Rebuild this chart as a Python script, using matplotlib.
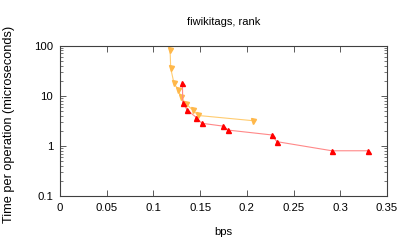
import matplotlib
matplotlib.use("Agg")
import matplotlib.pyplot as plt
from matplotlib.ticker import NullFormatter, LogLocator

plt.rcParams['font.family'] = ['Liberation Sans', 'DejaVu Sans']

title = "fiwikitags, rank"
xlabel = "bps"
ylabel = "Time per operation (microseconds)"

orange_x = [0.1178, 0.1185, 0.122, 0.1267, 0.1296, 0.135, 0.142, 0.148, 0.207]
orange_y = [81.5, 35.2, 17.7, 13.1, 9.35, 6.9, 5.23, 4.07, 3.2]

red_x = [0.131, 0.1314, 0.1363, 0.146, 0.1517, 0.174, 0.1795, 0.2267, 0.232, 0.291, 0.330]
red_y = [17.7, 7.1, 5.2, 3.7, 2.85, 2.51, 2.09, 1.67, 1.23, 0.81, 0.81]

xticks = [0, 0.05, 0.1, 0.15, 0.2, 0.25, 0.3, 0.35]
xtick_labels = ["0", "0.05", "0.1", "0.15", "0.2", "0.25", "0.3", "0.35"]
yticks = [0.1, 1, 10, 100]
ytick_labels = ["0.1", "1", "10", "100"]

fig = plt.figure(figsize=(4.07, 2.44), dpi=100)
ax = fig.add_axes([0.1474, 0.1947, 0.951 - 0.1474, 0.8135 - 0.1947])

ax.plot(orange_x, orange_y, color='#ffcc70', lw=0.8, marker='v', ms=3.6,
        mfc='#ffb84a', mec='#ffb84a', zorder=2)
ax.plot(red_x, red_y, color='#ff8888', lw=0.8, marker='^', ms=3.6,
        mfc='#ff0000', mec='#ff0000', zorder=3)

ax.set_yscale('log')
ax.set_xlim(0, 0.35)
ax.set_ylim(0.1, 100)
ax.set_xticks(xticks)
ax.set_xticklabels(xtick_labels)
ax.set_yticks(yticks)
ax.set_yticklabels(ytick_labels)
ax.yaxis.set_minor_locator(LogLocator(base=10, subs=range(2, 10)))
ax.yaxis.set_minor_formatter(NullFormatter())

ax.tick_params(axis='both', which='both', direction='in', top=True, right=True,
               labelsize=8.2, color='#404040', pad=5)
ax.tick_params(axis='both', which='major', length=4, width=0.6)
ax.tick_params(axis='both', which='minor', length=2, width=0.5)
for s in ax.spines.values():
    s.set_color('#404040')
    s.set_linewidth(0.8)

ax.set_title(title, fontsize=8, pad=15)
ax.set_xlabel(xlabel, fontsize=8.2)
ax.set_ylabel(ylabel, fontsize=9.2)
ax.xaxis.set_label_coords(0.5, -0.2)
ax.yaxis.set_label_coords(-0.138, 0.48)

fig.savefig("out.png", dpi=100)
